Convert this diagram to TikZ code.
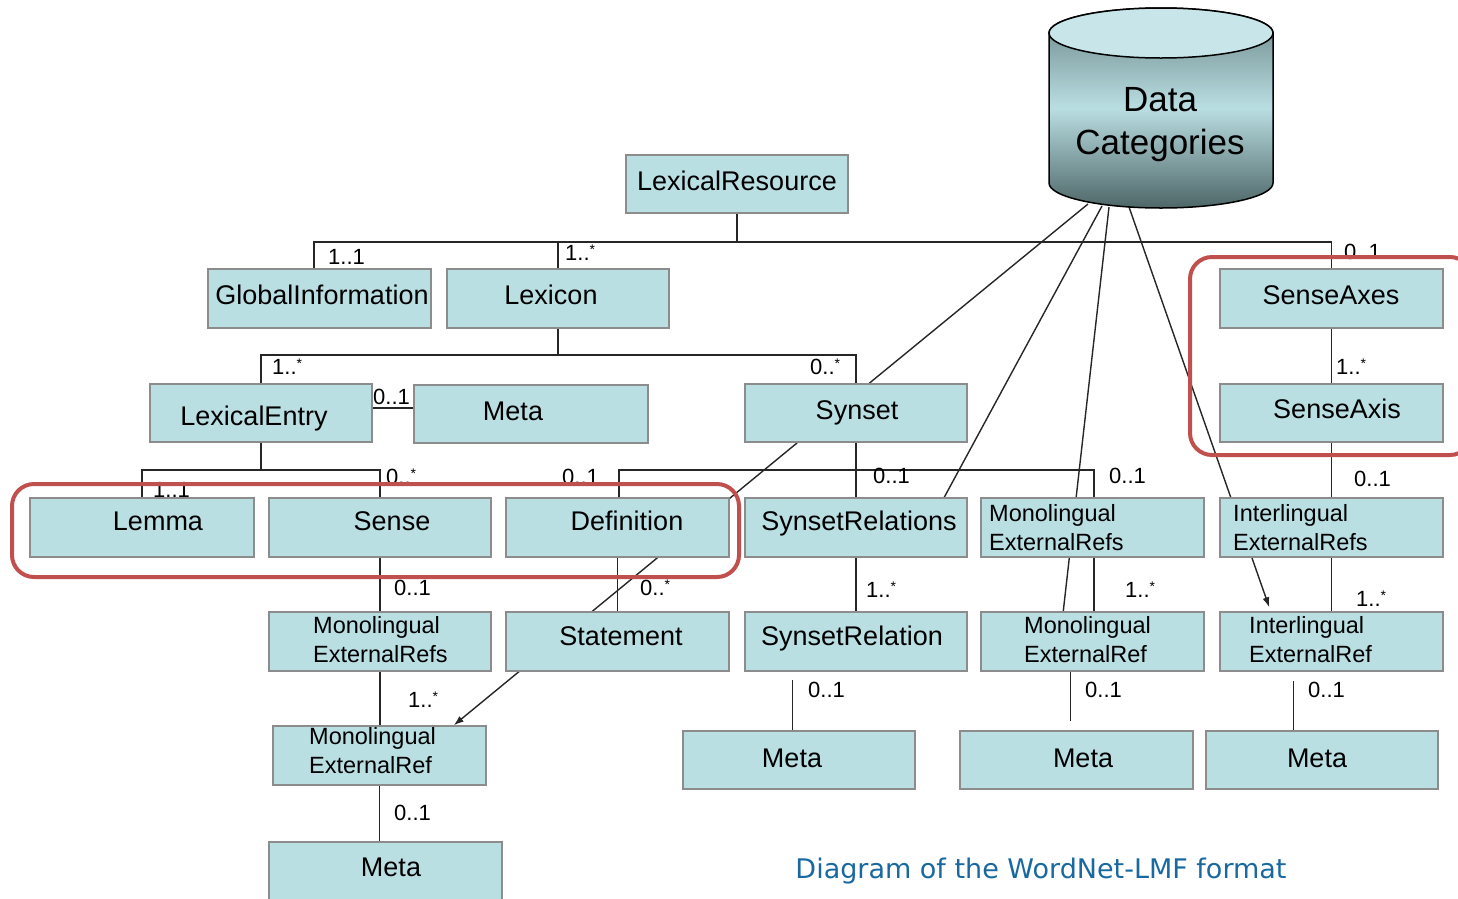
\documentclass[tikz,border=0pt]{standalone}
\usepackage{fontspec}
\setmainfont{Liberation Sans}
\newfontfamily\capfont{DejaVu Sans}
\usetikzlibrary{arrows.meta,calc,fit}
\pgfdeclarelayer{background}
\pgfsetlayers{background,main}
\definecolor{boxfill}{RGB}{185,223,227}
\definecolor{boxline}{RGB}{140,140,140}
\definecolor{frame}{RGB}{192,80,77}
\definecolor{capblue}{RGB}{25,105,160}
\definecolor{cyltop}{RGB}{200,230,234}
\definecolor{cyldark}{RGB}{105,132,134}
\definecolor{cyllight}{RGB}{185,222,226}
\definecolor{cylbot}{RGB}{78,102,103}
\newcommand{\st}{\raisebox{6pt}{\fontsize{14}{14}\selectfont *}}
\newcommand{\bxnode}[5]{\node[bx, fit={(#2,#3) (#4,#5)}] (#1) {};}
\tikzset{
 bx/.style={draw=boxline, fill=boxfill, line width=1.5pt, inner sep=0pt},
 tx/.style={inner sep=0pt, text height=19.3pt, text depth=0pt, font=\fontsize{27}{32}\selectfont},
 tx2/.style={inner sep=0pt, anchor=west, align=left, font=\fontsize{23.5}{29}\selectfont},
 ml/.style={inner sep=0pt, anchor=west, text height=15.75pt, text depth=0pt, font=\fontsize{22}{26}\selectfont},
 conn/.style={draw=black!85, line width=1.4pt},
 tip/.style={-{Latex[length=10pt,width=7pt]}},
 redframe/.style={draw=frame, line width=4pt, rounded corners=22pt},
}
\begin{document}
\begin{tikzpicture}[x=1pt,y=-1pt]
\useasboundingbox (0,0) rectangle (1458,898);

% ---- boxes ----
\bxnode{lr}{626}{155}{848}{213}
\bxnode{gi}{208}{269}{431}{328}
\bxnode{lex}{447}{269}{669}{328}
\bxnode{sax}{1220}{269}{1443}{328}
\bxnode{le}{150}{384}{372}{442}
\bxnode{metaA}{414}{385}{648}{443}
\bxnode{syn}{745}{384}{967}{442}
\bxnode{saxis}{1220}{384}{1443}{442}
\bxnode{lemma}{30}{498}{254}{557}
\bxnode{sense}{269}{498}{491}{557}
\bxnode{def}{506}{498}{729}{557}
\bxnode{srels}{745}{498}{967}{557}
\bxnode{mrefsR}{981}{498}{1204}{557}
\bxnode{irefs}{1220}{498}{1443}{557}
\bxnode{mrefsL}{269}{612}{491}{671}
\bxnode{stmt}{506}{612}{729}{671}
\bxnode{srel}{745}{612}{967}{671}
\bxnode{mrefR}{981}{612}{1204}{671}
\bxnode{iref}{1220}{612}{1443}{671}
\bxnode{mrefL}{273}{726}{486}{785}
\bxnode{metaB}{683}{731}{915}{789}
\bxnode{metaC}{960}{731}{1193}{789}
\bxnode{metaD}{1206}{731}{1438}{789}
\bxnode{metaE}{269}{842}{502}{912}

% ---- cylinder ----
\draw[line width=1.5pt, top color=cyldark, bottom color=cylbot, middle color=cyllight]
  (1049,33) -- (1049,183) arc[start angle=180, end angle=360, x radius=112pt, y radius=25pt]
  -- (1273,33) arc[start angle=0, end angle=180, x radius=112pt, y radius=25pt] -- cycle;
\draw[line width=1.5pt, fill=cyltop] (1161,33) ellipse[x radius=112pt, y radius=25pt];
\node[font=\fontsize{35}{43}\selectfont, align=center, inner sep=0pt] (dc) at (1160,125) {Data\\Categories};
\coordinate (dc1) at (1088,204);
\coordinate (dc2) at (1102,206);
\coordinate (dc3) at (1109,207);
\coordinate (dc4) at (1129,207);

% ---- connectors ----
\begin{pgfonlayer}{background}
\coordinate (j1) at (737,242);
\draw[conn] (lr.south) -- (j1);
\draw[conn] ($(gi.north)+(-5.5,0)$) |- (j1);
\draw[conn] (lex.north) |- (j1);
\draw[conn] (sax.north) |- (j1);
\coordinate (j2) at (558,355);
\draw[conn] (lex.south) -- (j2);
\draw[conn] (le.north) |- (j2);
\draw[conn] (syn.north) |- (j2);
\draw[conn] ($(le.east)+(0,-5)$) -- ($(metaA.west)+(0,-6)$);
\coordinate (j3) at (261,470);
\draw[conn] (le.south) -- (j3);
\draw[conn] (lemma.north) |- (j3);
\draw[conn] (sense.north) |- (j3);
\coordinate (j4) at (856,470);
\draw[conn] (syn.south) -- (j4);
\draw[conn] ($(def.north)+(1.5,0)$) |- (j4);
\draw[conn] (srels.north) -- (j4);
\draw[conn] ($(mrefsR.north)+(1.5,0)$) |- (j4);
\draw[conn] (sense.south) -- (mrefsL.north);
\draw[conn] (mrefsL.south) -- (mrefsL.south |- mrefL.north);
\draw[conn] (mrefL.south) -- (mrefL.south |- metaE.north);
\draw[conn] (def.south) -- (stmt.north);
\draw[conn] (srels.south) -- (srel.north);
\draw[conn] ($(mrefsR.south)+(1.5,0)$) -- ($(mrefR.north)+(1.5,0)$);
\draw[conn] (sax.south) -- (saxis.north);
\draw[conn] (saxis.south) -- (irefs.north);
\draw[conn] (irefs.south) -- (iref.north);
\coordinate (s1) at ($(srel.south west)+(48,8)$);
\draw[conn] (s1) -- (s1 |- metaB.north);
\coordinate (s2) at ($(mrefR.south west)+(90,-3)$);
\coordinate (e2) at ($(s2 |- metaC.north)+(0,-9)$);
\draw[conn] (s2) -- (e2);
\coordinate (s3) at ($(iref.south west)+(74,9)$);
\draw[conn] (s3) -- (s3 |- metaD.north);
\draw[conn] (dc1) -- ($(syn.north west)+(125,0)$);
\draw[conn] (dc2) -- ($(srels.north west)+(200,0)$);
\draw[conn] (dc3) -- ($(mrefR.north west)+(83,0)$);
\draw[conn, tip] (dc4) -- ($(iref.north west)+(50,-4)$);
\draw[conn, tip] ($(syn.south west)+(53,0)$) -- ($(mrefL.north east)+(-33,0)$);
\end{pgfonlayer}

% ---- box texts ----
\node[tx] (t-lr) at (737,181) {LexicalResource};
\node[tx] (t-gi) at (322,295) {GlobalInformation};
\node[tx] (t-lex) at (551,295) {Lexicon};
\node[tx] (t-sax) at (1331,295) {SenseAxes};
\node[tx] (t-le) at (254,416) {LexicalEntry};
\node[tx] (t-metaA) at (513,411) {Meta};
\node[tx] (t-syn) at (857,410) {Synset};
\node[tx] (t-saxis) at (1337,409) {SenseAxis};
\node[tx] (t-lemma) at (158,521) {Lemma};
\node[tx] (t-sense) at (392,521) {Sense};
\node[tx] (t-def) at (627,521) {Definition};
\node[tx] (t-srels) at (859,521) {SynsetRelations};
\node[tx2] (t-mrefsR) at (989,528) {Monolingual\\ExternalRefs};
\node[tx2] (t-irefs) at (1233,528) {Interlingual\\ExternalRefs};
\node[tx2] (t-mrefsL) at (313,640) {Monolingual\\ExternalRefs};
\node[tx] (t-stmt) at (621,636) {Statement};
\node[tx] (t-srel) at (852,636) {SynsetRelation};
\node[tx2] (t-mrefR) at (1024,640) {Monolingual\\ExternalRef};
\node[tx2] (t-iref) at (1249,640) {Interlingual\\ExternalRef};
\node[tx2] (t-mrefL) at (309,751) {Monolingual\\ExternalRef};
\node[tx] (t-metaB) at (792,758) {Meta};
\node[tx] (t-metaC) at (1083,758) {Meta};
\node[tx] (t-metaD) at (1317,758) {Meta};
\node[tx] (t-metaE) at (391,867) {Meta};

% ---- multiplicities ----
\node[ml] (m1) at (328,257) {1..1};
\node[ml] (m2) at (565,253) {1..\st};
\node[ml] (m3) at (1344,252) {0..1};
\node[ml] (m4) at (272,367) {1..\st};
\node[ml] (m5) at (810,367) {0..\st};
\node[ml] (m6) at (373,397) {0..1};
\node[ml] (m7) at (153,490) {1..1};
\node[ml] (m8) at (386,477) {0..\st};
\node[ml] (m9) at (562,477) {0..1};
\node[ml] (m10) at (873,476) {0..1};
\node[ml] (m11) at (1109,476) {0..1};
\node[ml] (m12) at (1336,367) {1..\st};
\node[ml] (m13) at (1354,479) {0..1};
\node[ml] (m14) at (394,588) {0..1};
\node[ml] (m15) at (640,588) {0..\st};
\node[ml] (m16) at (866,590) {1..\st};
\node[ml] (m17) at (1125,590) {1..\st};
\node[ml] (m18) at (1356,599) {1..\st};
\node[ml] (m19) at (408,700) {1..\st};
\node[ml] (m20) at (808,690) {0..1};
\node[ml] (m21) at (1085,690) {0..1};
\node[ml] (m22) at (1308,690) {0..1};
\node[ml] (m23) at (394,813) {0..1};

% ---- highlight frames ----
\draw[redframe] (1190,257) rectangle (1472,455);
\draw[redframe] (12,484) rectangle (739,577);

% ---- caption ----
\node[font=\capfont\fontsize{27}{32}\selectfont, text=capblue, inner sep=0pt] (cap) at (1041,871) {Diagram of the WordNet-LMF format};
\end{tikzpicture}
\end{document}
